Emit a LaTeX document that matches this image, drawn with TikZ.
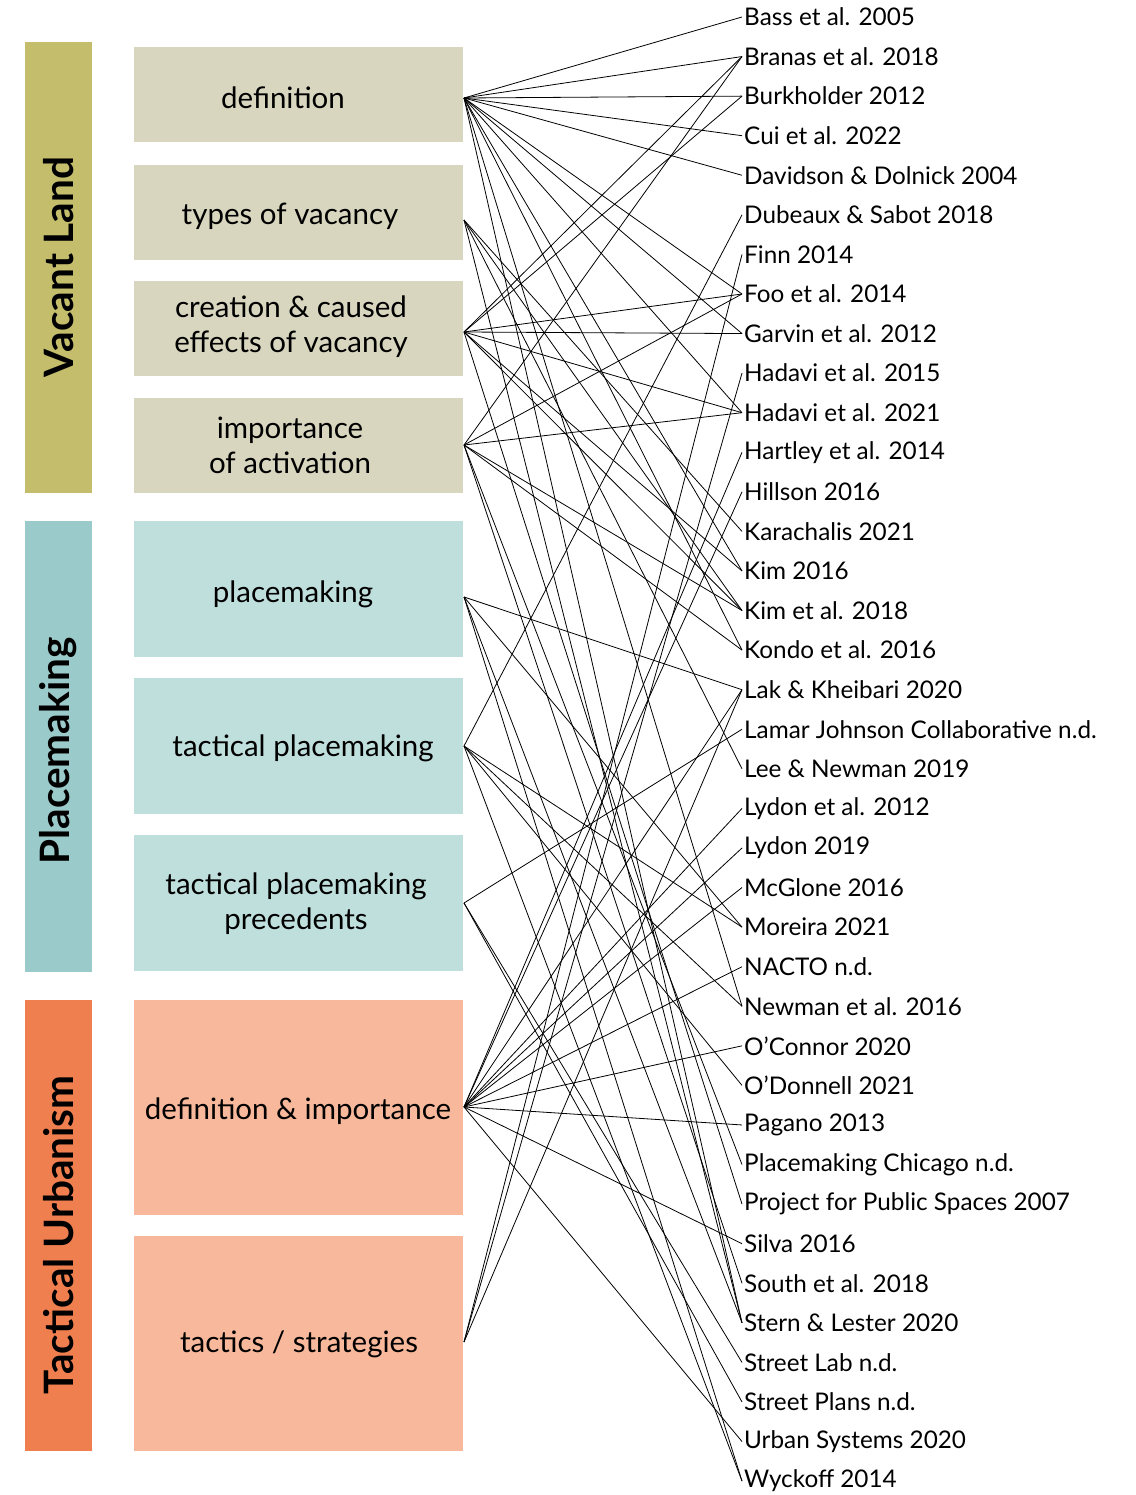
\documentclass[tikz,border=0pt]{standalone}
\usepackage{fontspec}
\setmainfont{Lato}
\definecolor{vlbar}{HTML}{C4BD6C}
\definecolor{vlbox}{HTML}{D8D6BE}
\definecolor{pmbar}{HTML}{9BCACA}
\definecolor{pmbox}{HTML}{BFDFDD}
\definecolor{tubar}{HTML}{F07F4F}
\definecolor{tubox}{HTML}{F7B89B}
\begin{document}
\begin{tikzpicture}[x=1pt,y=-1pt,
  catbar/.style={draw=none,minimum width=67pt,inner sep=0pt},
  cattext/.style={rotate=90,font=\fontsize{40.5}{44}\selectfont\bfseries},
  topic/.style={draw=none,minimum width=329pt,inner sep=0pt},
  topictext/.style={align=center,inner sep=0pt,font=\fontsize{29.5}{35}\selectfont},
  ref/.style={anchor=west,inner sep=2pt,font=\fontsize{24.3}{26}\selectfont},
  link/.style={draw=black,line width=0.8pt}]
\useasboundingbox (0,0) rectangle (1135,1495);
% category bars
\node[catbar,fill=vlbar,minimum height=451pt] (c1) at (58.5,267.5) {};
\node[cattext] (c1t) at (58.5,267) {Vacant Land};
\node[catbar,fill=pmbar,minimum height=451pt] (c2) at (58.5,746.5) {};
\node[cattext] (c2t) at (58.5,751) {Placemaking};
\node[catbar,fill=tubar,minimum height=451pt] (c3) at (58.5,1225.5) {};
\node[cattext] (c3t) at (58.5,1235) {Tactical Urbanism};
% topic boxes
\node[topic,fill=vlbox,minimum height=95pt] (t1) at (298.5,94.5) {};
\node[topic,fill=vlbox,minimum height=95pt] (t2) at (298.5,212.5) {};
\node[topic,fill=vlbox,minimum height=95pt] (t3) at (298.5,328.5) {};
\node[topic,fill=vlbox,minimum height=95pt] (t4) at (298.5,445.5) {};
\node[topic,fill=pmbox,minimum height=136pt] (t5) at (298.5,588.5) {};
\node[topic,fill=pmbox,minimum height=136pt] (t6) at (298.5,746) {};
\node[topic,fill=pmbox,minimum height=136pt] (t7) at (298.5,903) {};
\node[topic,fill=tubox,minimum height=215pt] (t8) at (298.5,1107.5) {};
\node[topic,fill=tubox,minimum height=215pt] (t9) at (298.5,1343.5) {};
\node[topictext] (l1) at (283,98) {definition};
\node[topictext] (l2) at (290,216) {types of vacancy};
\node[topictext] (l3) at (291,327) {creation \& caused\\effects of vacancy};
\node[topictext] (l4) at (290,445) {importance\\of activation};
\node[topictext] (l5) at (293,594) {placemaking};
\node[topictext] (l6) at (303,748) {tactical placemaking};
\node[topictext] (l7) at (296,904) {tactical placemaking\\precedents};
\node[topictext] (l8) at (298,1111) {definition \& importance};
\node[topictext] (l9) at (299,1344) {tactics / strategies};
% link sources
\coordinate (s1) at (464,98);
\coordinate (s2) at (464,220);
\coordinate (s3) at (464,332);
\coordinate (s4) at (464,445);
\coordinate (s5) at (464,597);
\coordinate (s6) at (464,746);
\coordinate (s7) at (464,903);
\coordinate (s8) at (464,1107);
\coordinate (s9) at (464,1342);
% references
\foreach \i/\t in {1/Bass et al. 2005,2/Branas et al. 2018,3/Burkholder 2012,4/Cui et al. 2022,
  5/Davidson \& Dolnick 2004,6/Dubeaux \& Sabot 2018,7/Finn 2014,8/Foo et al. 2014,
  9/Garvin et al. 2012,10/Hadavi et al. 2015,11/Hadavi et al. 2021,12/Hartley et al. 2014,
  13/Hillson 2016,14/Karachalis 2021,15/Kim 2016,16/Kim et al. 2018,17/Kondo et al. 2016,
  18/Lak \& Kheibari 2020,19/Lamar Johnson Collaborative n.d.,20/Lee \& Newman 2019,
  21/Lydon et al. 2012,22/Lydon 2019,23/McGlone 2016,24/Moreira 2021,25/NACTO n.d.,
  26/Newman et al. 2016,27/O'Connor 2020,28/O'Donnell 2021,29/Pagano 2013,
  30/Placemaking Chicago n.d.,31/Project for Public Spaces 2007,32/Silva 2016,
  33/South et al. 2018,34/Stern \& Lester 2020,35/Street Lab n.d.,36/Street Plans n.d.,
  37/Urban Systems 2020,38/Wyckoff 2014}
  {\node[ref] (r\i) at (742,{17+39.57*(\i-1)}) {\t};}
% links
\foreach \s/\r in {1/1,1/2,1/3,1/4,1/5,1/8,1/9,1/11,1/15,1/17,1/26,1/34,
  2/14,2/16,2/20,2/34,
  3/2,3/3,3/8,3/9,3/11,3/15,3/16,3/31,
  4/2,4/8,4/11,4/16,4/17,4/30,4/33,
  5/18,5/24,5/34,5/38,
  6/6,6/24,6/26,6/28,6/38,
  7/19,7/35,7/36,
  8/12,8/13,8/18,8/21,8/22,8/23,8/25,8/27,8/29,8/32,8/37,
  9/7,9/10,9/18}
  {\draw[link] (s\s) -- (r\r.west);}
\end{tikzpicture}
\end{document}
